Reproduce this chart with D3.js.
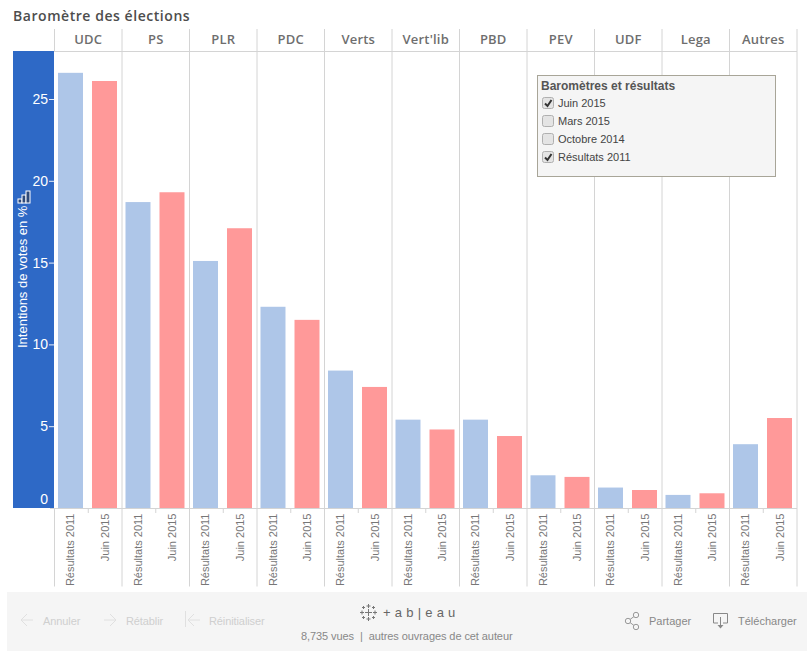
<!DOCTYPE html>
<html lang="fr">
<head>
<meta charset="UTF-8" />
<title>Baromètre des élections</title>
<script src="https://d3js.org/d3.v7.min.js"></script>
<style>
    body { margin: 0; background: #fff; }
    svg { display: block; font-family: "Liberation Sans", Arial, sans-serif; }
    .title { font: 600 14px "Open Sans", sans-serif; fill: #4d4d4d; letter-spacing: 0.55px; }
    .party { font: 600 13px "Open Sans", sans-serif; fill: #6e6e6e; letter-spacing: 0.2px; }
    .bar-label { font-size: 11px; fill: #777; }
    .foot { font-size: 11px; fill: #cfcfcf; letter-spacing: -0.1px; }
    .foot-dark { font-size: 11px; fill: #888; }
    .y-axis text { font-size: 14px; fill: #fff; }
    .y-axis line { stroke: #e8eef8; }
    .y-axis path { display: none; }
</style>
</head>
<body>
<svg width="812" height="656"></svg>
<script>
const categories = ["UDC", "PS", "PLR", "PDC", "Verts", "Vert'lib", "PBD", "PEV", "UDF", "Lega", "Autres"];
const resultats2011 = [26.6, 18.7, 15.1, 12.3, 8.4, 5.4, 5.4, 2.0, 1.25, 0.8, 3.9];
const juin2015 = [26.1, 19.3, 17.1, 11.5, 7.4, 4.8, 4.4, 1.9, 1.1, 0.9, 5.5];
const seriesNames = ["Résultats 2011", "Juin 2015"];
const seriesColors = ["#aec6e8", "#ff9999"];
const yTicks = [0, 5, 10, 15, 20, 25];
const legendItems = ["Juin 2015", "Mars 2015", "Octobre 2014", "Résultats 2011"];
const legendChecked = [true, false, false, true];

const svg = d3.select("svg");
const grid = "#d4d4d4";

const x = d3.scaleBand().domain(categories).range([54.5, 797]);
const xInner = d3.scaleBand().domain(seriesNames).range([3.5, 62.5]).paddingInner(0.265);
const y = d3.scaleLinear().domain([0, 25]).range([508, 99]);

svg.append("text").attr("class", "title").attr("x", 13).attr("y", 21).text("Baromètre des élections");

// blue axis band
svg.append("rect").attr("x", 13).attr("y", 51).attr("width", 41).attr("height", 457).attr("fill", "#2e69c6");

const yAxis = svg.append("g").attr("class", "y-axis").attr("transform", "translate(54,0)")
    .call(d3.axisLeft(y).tickValues(yTicks).tickSize(5).tickPadding(1));
yAxis.selectAll(".tick").filter(d => d === 0).select("line").remove();
yAxis.selectAll(".tick").filter(d => d === 0).select("text").attr("dy", "-0.3em").attr("x", -6);

svg.append("text")
    .attr("transform", "translate(27,348) rotate(-90)")
    .attr("font-size", 13).attr("fill", "#fff")
    .text("Intentions de votes en %");

// small bars icon on the axis title
[[18, 199, 4, 4], [22, 195, 4, 8], [26, 191, 4, 12]].forEach(r => {
    svg.append("rect").attr("x", r[0]).attr("y", r[1]).attr("width", r[2]).attr("height", r[3])
        .attr("fill", "#2e4a7a").attr("stroke", "#fff").attr("stroke-width", 1);
});

// panel lines
const edges = categories.map(c => x(c)).concat([x.range()[1]]);
svg.selectAll(".panel-top").data(edges).join("line")
    .attr("x1", d => d).attr("x2", d => d).attr("y1", 29).attr("y2", 51)
    .attr("stroke", grid);
svg.selectAll(".panel-mid").data(edges.slice(1)).join("line")
    .attr("x1", d => d).attr("x2", d => d).attr("y1", 51).attr("y2", 508)
    .attr("stroke", grid);
svg.selectAll(".panel-low").data(edges).join("line")
    .attr("x1", d => d).attr("x2", d => d).attr("y1", 508).attr("y2", 586.5)
    .attr("stroke", grid);
svg.append("line").attr("x1", 54).attr("x2", 797).attr("y1", 51.5).attr("y2", 51.5).attr("stroke", grid);
svg.append("line").attr("x1", 50).attr("x2", 797).attr("y1", 508.5).attr("y2", 508.5).attr("stroke", grid);
svg.selectAll(".mid-tick").data(categories).join("line")
    .attr("x1", d => x(d) + x.bandwidth() / 2).attr("x2", d => x(d) + x.bandwidth() / 2)
    .attr("y1", 508).attr("y2", 513).attr("stroke", grid);

svg.selectAll(".party").data(categories).join("text")
    .attr("class", "party").attr("text-anchor", "middle")
    .attr("x", d => x(d) + x.bandwidth() / 2).attr("y", 44).text(d => d);

// bars and their labels
[resultats2011, juin2015].forEach((values, s) => {
    const name = seriesNames[s];
    svg.selectAll(".bar" + s).data(values).join("rect")
        .attr("x", (d, i) => x(categories[i]) + xInner(name))
        .attr("y", d => y(d))
        .attr("width", xInner.bandwidth())
        .attr("height", d => y(0) - y(d))
        .attr("fill", seriesColors[s]);
    svg.selectAll(".lab" + s).data(values).join("text")
        .attr("class", "bar-label").attr("text-anchor", "end")
        .attr("transform", (d, i) => "translate(" + (x(categories[i]) + xInner(name) + xInner.bandwidth() / 2 + 4) + ",513.5) rotate(-90)")
        .text(name);
});

// legend box
const legend = svg.append("g").attr("transform", "translate(537.5,75.5)");
legend.append("rect").attr("width", 238).attr("height", 101).attr("fill", "#f5f5f5").attr("stroke", "#a8a598");
legend.append("text").attr("x", 3.5).attr("y", 14).attr("font-size", 12).attr("font-weight", "bold").attr("fill", "#555")
    .text("Baromètres et résultats");
legendItems.forEach((item, i) => {
    const rowY = 27.5 + i * 18;
    legend.append("rect").attr("x", 5).attr("y", rowY - 5.5).attr("width", 11).attr("height", 11).attr("rx", 2)
        .attr("fill", "#e4e4e4").attr("stroke", "#b0b0b0");
    if (legendChecked[i]) {
        legend.append("path").attr("d", `M7.5 ${rowY + 0.5} l2.5 2.5 l4 -6`)
            .attr("fill", "none").attr("stroke", "#333").attr("stroke-width", 2);
    }
    legend.append("text").attr("x", 20.5).attr("y", rowY + 4).attr("font-size", 11).attr("fill", "#444").text(item);
});

// toolbar
svg.append("rect").attr("x", 7).attr("y", 592).attr("width", 800).attr("height", 59).attr("fill", "#f5f5f5");
const arrow = (px, dir, col) => svg.append("path")
    .attr("d", `M${px} 620 h${dir * 12} M${px} 620 m${dir * 6} -6 l${-dir * 6} 6 l${dir * 6} 6`)
    .attr("fill", "none").attr("stroke", col).attr("stroke-width", 1);
arrow(21, 1, "#e0e0e0");
arrow(116, -1, "#e0e0e0");
svg.append("line").attr("x1", 185.5).attr("x2", 185.5).attr("y1", 611).attr("y2", 627).attr("stroke", "#e0e0e0");
arrow(188, 1, "#e0e0e0");
svg.append("text").attr("class", "foot").attr("x", 43).attr("y", 625).text("Annuler");
svg.append("text").attr("class", "foot").attr("x", 126).attr("y", 625).text("Rétablir");
svg.append("text").attr("class", "foot").attr("x", 209).attr("y", 625).text("Réinitialiser");

// tableau mark
[[368.5, 612.5, 3.5], [362, 612.5, 2], [375, 612.5, 2], [368.5, 606, 2], [368.5, 619, 2], [363.5, 607.5, 1.5], [373.5, 607.5, 1.5], [363.5, 617.5, 1.5], [373.5, 617.5, 1.5]].forEach(c => {
    svg.append("path").attr("d", `M${c[0] - c[2]} ${c[1]} h${2 * c[2]} M${c[0]} ${c[1] - c[2]} v${2 * c[2]}`)
        .attr("stroke", "#777").attr("fill", "none");
});
svg.append("text").attr("x", 383).attr("y", 617).attr("font-size", 13).attr("fill", "#666")
    .attr("letter-spacing", "4.2px").text("+ab|eau");
svg.append("text").attr("class", "foot-dark").attr("x", 301).attr("y", 640)
    .attr("letter-spacing", "-0.08px").attr("xml:space", "preserve").text("8,735 vues  |  autres ouvrages de cet auteur");

// share icon
svg.append("path").attr("d", "M636 615 L628 621 L636 627").attr("fill", "none").attr("stroke", "#999");
[[636, 615], [628, 621], [636, 627]].forEach(c => {
    svg.append("circle").attr("cx", c[0]).attr("cy", c[1]).attr("r", 2.7).attr("fill", "#f5f5f5").attr("stroke", "#999");
});
svg.append("text").attr("class", "foot-dark").attr("x", 649).attr("y", 625).text("Partager");

// download icon
svg.append("path").attr("d", "M718 623 h-4.5 v-9.5 h14 v9.5 h-4.5 M720.5 617 v8")
    .attr("fill", "none").attr("stroke", "#888");
svg.append("path").attr("d", "M717.5 625 h6 l-3 3.5 z").attr("fill", "#888");
svg.append("text").attr("class", "foot-dark").attr("x", 738).attr("y", 625).text("Télécharger");
</script>
</body>
</html>
